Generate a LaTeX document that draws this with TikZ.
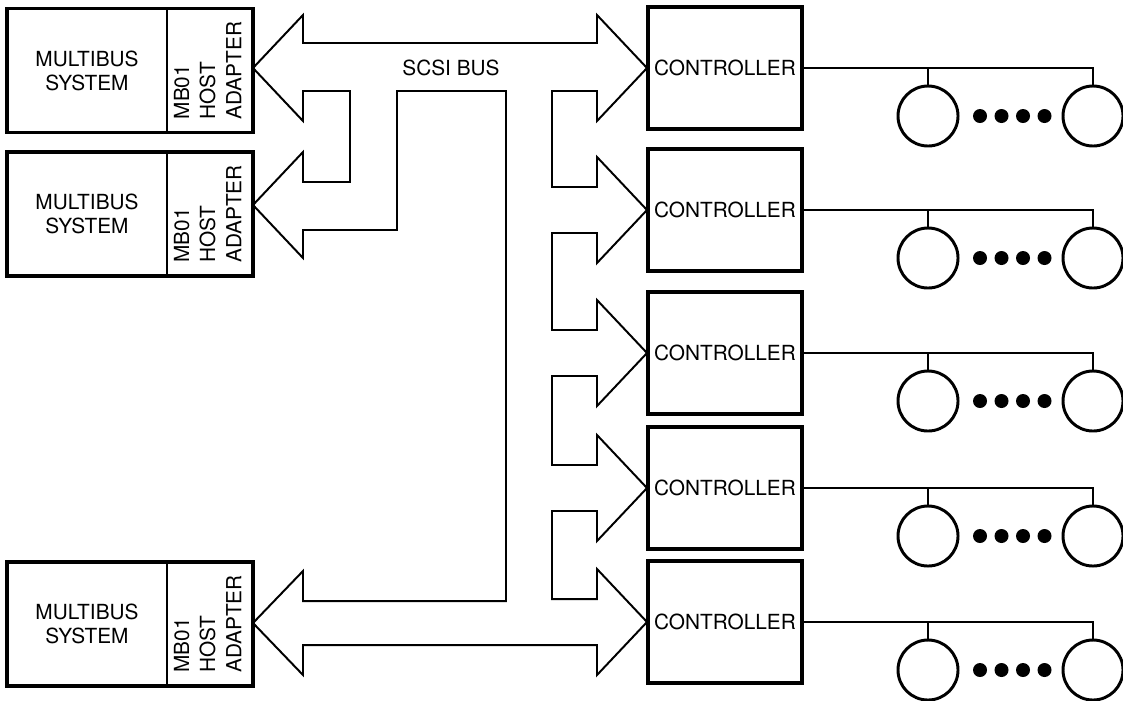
\documentclass[tikz,border=0pt]{standalone}
\usepackage{fontspec}
\setmainfont{TeX Gyre Heros}
\usepackage{graphicx}
\usetikzlibrary{positioning,calc}

\begin{document}
\begin{tikzpicture}[
    x=0.025cm, y=-0.025cm,
    font=\fontsize{14.8}{17}\selectfont,
    sysbox/.style={rectangle, minimum width=4.0cm, minimum height=3.1cm, inner sep=0pt, outer sep=0pt, align=center},
    hbabox/.style={rectangle, draw, line width=1.4pt, minimum width=2.15cm, minimum height=3.1cm, inner sep=0pt, outer sep=0pt},
    frame/.style={draw, line width=2.8pt},
    ctrlbox/.style={rectangle, draw, line width=2.8pt, minimum width=3.85cm, minimum height=3.05cm, inner sep=0pt, outer sep=0pt},
    disk/.style={circle, draw, line width=2.1pt, minimum size=1.5cm, inner sep=0pt, outer sep=0pt},
    bus/.style={draw, line width=1.4pt, line join=miter},
    drvline/.style={draw, line width=1.4pt}
]
    \useasboundingbox (0,0) rectangle (1123,700);
    \newcommand{\hbatext}{\rotatebox{90}{\fontsize{14.8}{18.5}\selectfont\begin{tabular}{@{}l@{}}MB01\\HOST\\ADAPTER\end{tabular}}}

    % Hosts: Multibus systems with MB01 adapters
    \node (sys1) at (87,70.5) [sysbox] {MULTIBUS\\SYSTEM};
    \node (hba1) [hbabox, right=0pt of sys1] {\hbatext};
    \node (sys2) at (87,214) [sysbox] {MULTIBUS\\SYSTEM};
    \node (hba2) [hbabox, right=0pt of sys2] {\hbatext};
    \node (sys3) at (87,624) [sysbox] {MULTIBUS\\SYSTEM};
    \node (hba3) [hbabox, right=0pt of sys3] {\hbatext};
    \draw [frame] (sys1.north west) rectangle (hba1.south east);
    \draw [frame] (sys2.north west) rectangle (hba2.south east);
    \draw [frame] (sys3.north west) rectangle (hba3.south east);

    % SCSI bus outline
    \draw [bus] (253,68) -- (303,15) -- (303,43) -- (597,43) -- (597,15) -- (647,68) -- (597,121) -- (597,91) -- (552,91)
        -- (552,187) -- (597,187) -- (597,157) -- (647,210) -- (597,263) -- (597,233) -- (552,233)
        -- (552,330) -- (597,330) -- (597,300) -- (647,353) -- (597,406) -- (597,376) -- (552,376)
        -- (552,465) -- (597,465) -- (597,435) -- (647,488) -- (597,541) -- (597,511) -- (552,511)
        -- (552,599) -- (597,599) -- (597,569) -- (647,622) -- (597,675) -- (597,645)
        -- (303,645) -- (303,675) -- (253,623) -- (303,571) -- (303,601) -- (506,601)
        -- (506,91) -- (397,91) -- (397,230) -- (303,230) -- (303,258) -- (253,205) -- (303,152)
        -- (303,182) -- (350,182) -- (350,91) -- (303,91) -- (303,121) -- cycle;
    \node (buslabel) at (451,68) {SCSI BUS};

    % Controllers
    \node (ctrl1) at (725,68) [ctrlbox] {CONTROLLER};
    \node (ctrl2) at (725,210) [ctrlbox] {CONTROLLER};
    \node (ctrl3) at (725,353) [ctrlbox] {CONTROLLER};
    \node (ctrl4) at (725,488) [ctrlbox] {CONTROLLER};
    \node (ctrl5) at (725,622) [ctrlbox] {CONTROLLER};

    % Drive strings
    \node (d1a) at (928,116) [disk] {};
    \node (d1b) at (1093,116) [disk] {};
    \node (d2a) at (928,258) [disk] {};
    \node (d2b) at (1093,258) [disk] {};
    \node (d3a) at (928,401) [disk] {};
    \node (d3b) at (1093,401) [disk] {};
    \node (d4a) at (928,536) [disk] {};
    \node (d4b) at (1093,536) [disk] {};
    \node (d5a) at (928,670) [disk] {};
    \node (d5b) at (1093,670) [disk] {};

    \draw [drvline] (ctrl1.east) -| (d1b);
    \draw [drvline] (d1a) -- (d1a |- ctrl1.east);
    \draw [drvline] (ctrl2.east) -| (d2b);
    \draw [drvline] (d2a) -- (d2a |- ctrl2.east);
    \draw [drvline] (ctrl3.east) -| (d3b);
    \draw [drvline] (d3a) -- (d3a |- ctrl3.east);
    \draw [drvline] (ctrl4.east) -| (d4b);
    \draw [drvline] (d4a) -- (d4a |- ctrl4.east);
    \draw [drvline] (ctrl5.east) -| (d5b);
    \draw [drvline] (d5a) -- (d5a |- ctrl5.east);

    % dots between drives
    \fill (980,116) circle (0.175cm) (1001.5,116) circle (0.175cm) (1023,116) circle (0.175cm) (1044.5,116) circle (0.175cm);
    \fill (980,258) circle (0.175cm) (1001.5,258) circle (0.175cm) (1023,258) circle (0.175cm) (1044.5,258) circle (0.175cm);
    \fill (980,401) circle (0.175cm) (1001.5,401) circle (0.175cm) (1023,401) circle (0.175cm) (1044.5,401) circle (0.175cm);
    \fill (980,536) circle (0.175cm) (1001.5,536) circle (0.175cm) (1023,536) circle (0.175cm) (1044.5,536) circle (0.175cm);
    \fill (980,670) circle (0.175cm) (1001.5,670) circle (0.175cm) (1023,670) circle (0.175cm) (1044.5,670) circle (0.175cm);
\end{tikzpicture}
\end{document}
